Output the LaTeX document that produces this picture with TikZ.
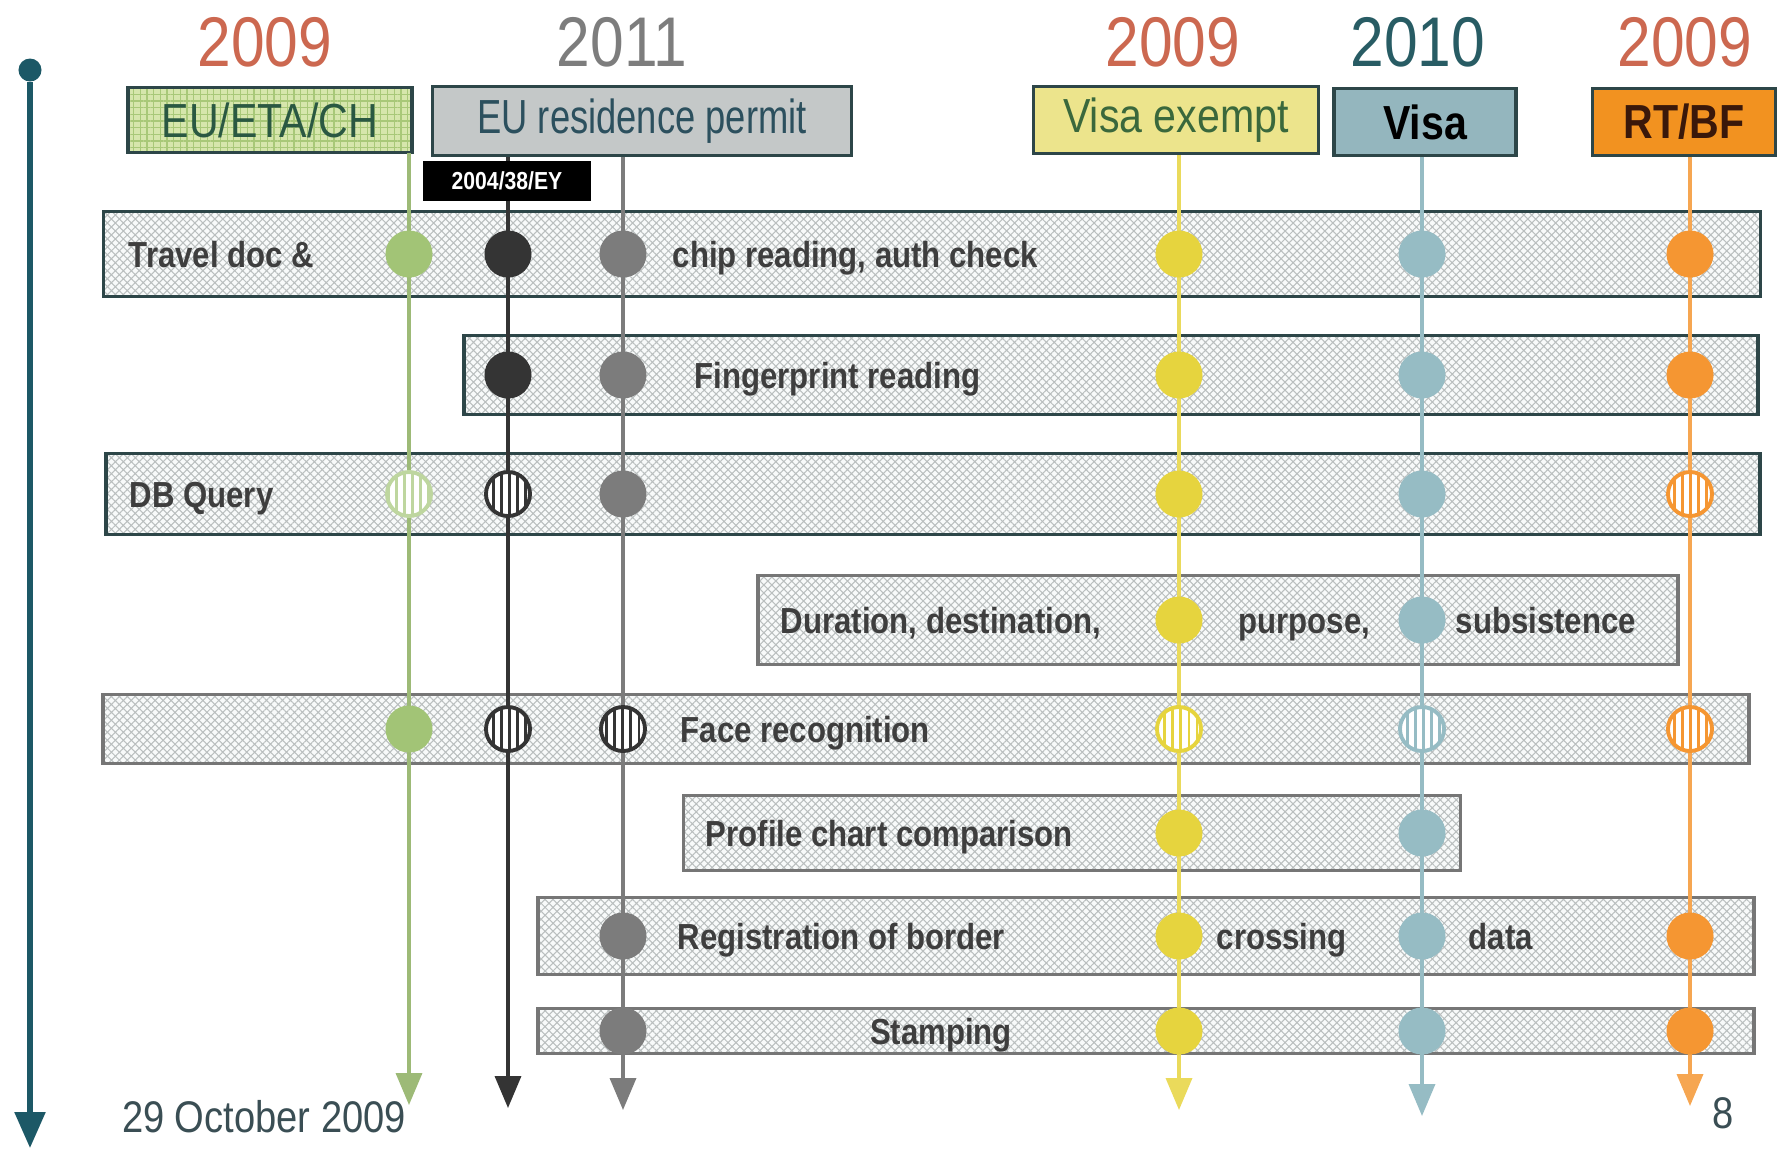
\documentclass[tikz,border=0pt]{standalone}
\usepackage{fontspec}
\setmainfont{Liberation Sans}
\newfontfamily\narrowfont[FakeStretch=0.86]{Liberation Sans}
\newfontfamily\condfont[FakeStretch=0.76]{Liberation Sans}
\usetikzlibrary{arrows.meta, patterns.meta, positioning}

\definecolor{yearred}{RGB}{204, 104, 80}
\definecolor{yeargray}{RGB}{125, 125, 125}
\definecolor{yearteal}{RGB}{40, 92, 100}
\definecolor{tlteal}{RGB}{28, 88, 102}
\definecolor{boxdark}{RGB}{45, 70, 72}
\definecolor{boxgray}{RGB}{118, 118, 118}
\definecolor{rowfill}{RGB}{248, 250, 250}
\definecolor{hatchgray}{RGB}{186, 191, 191}
\definecolor{rowtext}{RGB}{62, 62, 62}
\definecolor{etafill}{RGB}{214, 230, 172}
\definecolor{etagrid}{RGB}{168, 200, 120}
\definecolor{etatext}{RGB}{42, 88, 66}
\definecolor{permitfill}{RGB}{196, 200, 200}
\definecolor{permittext}{RGB}{44, 80, 94}
\definecolor{exemptfill}{RGB}{236, 228, 140}
\definecolor{exempttext}{RGB}{58, 104, 60}
\definecolor{visafill}{RGB}{148, 182, 190}
\definecolor{rtbffill}{RGB}{242, 146, 32}
\definecolor{rtbftext}{RGB}{58, 24, 10}
\definecolor{colgreen}{RGB}{162, 196, 118}
\definecolor{colblack}{RGB}{52, 52, 52}
\definecolor{colgray}{RGB}{124, 124, 124}
\definecolor{colyellow}{RGB}{230, 212, 62}
\definecolor{colblue}{RGB}{150, 188, 196}
\definecolor{colorange}{RGB}{245, 150, 50}
\definecolor{foottext}{RGB}{58, 78, 84}

\begin{document}
\begin{tikzpicture}[x=0.01cm, y=-0.01cm,
  yearlbl/.style={inner sep=0, font=\narrowfont\fontsize{20}{22}\selectfont},
  hdr/.style={line width=1pt, inner sep=0, font=\narrowfont\fontsize{13.6}{15}\selectfont},
  rowbox/.style={draw=#1, line width=1pt, inner sep=0, preaction={fill=rowfill},
    pattern={Hatch[angle=45, distance=1.6pt, line width=0.3pt]}, pattern color=hatchgray},
  rowtxt/.style={anchor=west, inner sep=0, text height=1.4ex, text depth=0pt, text=rowtext,
    font=\narrowfont\bfseries\fontsize{10.3}{12}\selectfont},
  colline/.style={draw=#1, line width=1pt, -{Triangle[width=0.26cm, length=0.32cm]}},
  dotf/.style={circle, inner sep=0, minimum size=0.47cm, fill=#1},
  doth/.style={circle, inner sep=0, minimum size=0.44cm, draw=#1, line width=1.1pt,
    preaction={fill=white}, pattern={Lines[angle=90, distance=2.3pt, line width=0.8pt]}, pattern color=#1}]
  \useasboundingbox (0,0) rectangle (1778,1150);

  % ===== TIMELINE (left) =====
  \node[circle, fill=tlteal, inner sep=0, minimum size=0.23cm] (tltop) at (30,70) {};
  \coordinate (tlend) at (30,1148);
  \draw[tlteal, line width=1.6pt, -{Triangle[width=0.3cm, length=0.36cm]}] (tltop) -- (tlend);

  % ===== YEARS =====
  \node[yearlbl, text=yearred] (y1) at (265,42) {2009};
  \node[yearlbl, text=yeargray] (y2) at (622,42) {2011};
  \node[yearlbl, text=yearred] (y3) at (1173,42) {2009};
  \node[yearlbl, text=yearteal] (y4) at (1418,42) {2010};
  \node[yearlbl, text=yearred] (y5) at (1685,42) {2009};

  % ===== HEADERS =====
  \node[hdr, draw=boxdark, preaction={fill=etafill}, pattern={Hatch[angle=0, distance=1.9pt, line width=0.35pt]},
    pattern color=etagrid, text=etatext, minimum width=2.84cm, minimum height=0.65cm] (eta) at (270,120) {EU/ETA/CH};
  \node[hdr, draw=boxdark, fill=permitfill, text=permittext, minimum width=4.19cm, minimum height=0.69cm,
    font=\condfont\fontsize{13.6}{15}\selectfont] (permit) at (642,121) {EU residence permit};
  \node[hdr, draw=boxdark, fill=exemptfill, text=exempttext, minimum width=2.85cm, minimum height=0.67cm] (exempt) at (1176,120) {Visa exempt};
  \node[hdr, draw=boxdark, fill=visafill, text=black, minimum width=1.82cm, minimum height=0.67cm,
    font=\narrowfont\bfseries\fontsize{13.6}{15}\selectfont] (visa) at (1425,122) {Visa};
  \node[hdr, draw=boxdark, fill=rtbffill, text=rtbftext, minimum width=1.83cm, minimum height=0.67cm,
    font=\narrowfont\bfseries\fontsize{13.6}{15}\selectfont] (rtbf) at (1684,122) {RT/BF};

  % ===== ROWS =====
  \node[rowbox=boxdark, minimum width=16.56cm, minimum height=0.85cm] (r1) at (932,254) {};
  \node[rowbox=boxdark, minimum width=12.93cm, minimum height=0.79cm] (r2) at (1111,375) {};
  \node[rowbox=boxdark, minimum width=16.53cm, minimum height=0.81cm] (r3) at (933,494) {};
  \node[rowbox=boxgray, minimum width=9.19cm, minimum height=0.89cm] (r4) at (1218,620) {};
  \node[rowbox=boxgray, minimum width=16.45cm, minimum height=0.69cm] (r5) at (926,729) {};
  \node[rowbox=boxgray, minimum width=7.77cm, minimum height=0.75cm] (r6) at (1072,833) {};
  \node[rowbox=boxgray, minimum width=12.15cm, minimum height=0.77cm] (r7) at (1146,936) {};
  \node[rowbox=boxgray, minimum width=12.15cm, minimum height=0.45cm] (r8) at (1146,1031) {};

  \node[rowtxt] (t1a) at (128,254) {Travel doc \&};
  \node[rowtxt] (t1b) at (672,254) {chip reading, auth check};
  \node[rowtxt] (t2) at (694,375) {Fingerprint reading};
  \node[rowtxt] (t3) at (129,494) {DB Query};
  \node[rowtxt] (t4a) at (780,620) {Duration, destination,};
  \node[rowtxt] (t4b) at (1238,620) {purpose,};
  \node[rowtxt] (t4c) at (1455,620) {subsistence};
  \node[rowtxt] (t5) at (680,729) {Face recognition};
  \node[rowtxt] (t6) at (705,833) {Profile chart comparison};
  \node[rowtxt] (t7a) at (677,936) {Registration of border};
  \node[rowtxt] (t7b) at (1216,936) {crossing};
  \node[rowtxt] (t7c) at (1468,936) {data};
  \node[rowtxt, anchor=center] (t8) at (941,1031) {Stamping};

  % ===== COLUMN LINES =====
  \coordinate (gend) at (409,1105);
  \coordinate (kend) at (508,1108);
  \coordinate (send) at (623,1110);
  \coordinate (yend) at (1179,1110);
  \coordinate (bend) at (1422,1116);
  \coordinate (oend) at (1690,1106);
  \draw[colline=colgreen!85!gray] (eta.south -| gend) -- (gend);
  \draw[colline=colblack] (permit.south -| kend) -- (kend);
  \draw[colline=colgray] (permit.south -| send) -- (send);
  \draw[colline=colyellow!85!white] (exempt.south -| yend) -- (yend);
  \draw[colline=colblue] (visa.south -| bend) -- (bend);
  \draw[colline=colorange!85!white] (rtbf.south -| oend) -- (oend);

  \node[fill=black, inner sep=0, minimum width=1.68cm, minimum height=0.4cm, text=white,
    font=\narrowfont\bfseries\fontsize{7}{8}\selectfont] (dir) at (507,181) {2004/38/EY};

  % ===== DOTS =====
  % travel doc
  \node[dotf=colgreen] (g1) at (409,254) {};
  \node[dotf=colblack] (k1) at (508,254) {};
  \node[dotf=colgray] (s1) at (623,254) {};
  \node[dotf=colyellow] (ye1) at (1179,254) {};
  \node[dotf=colblue] (b1) at (1422,254) {};
  \node[dotf=colorange] (o1) at (1690,254) {};
  % fingerprint
  \node[dotf=colblack] (k2) at (508,375) {};
  \node[dotf=colgray] (s2) at (623,375) {};
  \node[dotf=colyellow] (ye2) at (1179,375) {};
  \node[dotf=colblue] (b2) at (1422,375) {};
  \node[dotf=colorange] (o2) at (1690,375) {};
  % db query
  \node[doth=colgreen!70!white] (g3) at (409,494) {};
  \node[doth=colblack] (k3) at (508,494) {};
  \node[dotf=colgray] (s3) at (623,494) {};
  \node[dotf=colyellow] (ye3) at (1179,494) {};
  \node[dotf=colblue] (b3) at (1422,494) {};
  \node[doth=colorange] (o3) at (1690,494) {};
  % duration
  \node[dotf=colyellow] (ye4) at (1179,620) {};
  \node[dotf=colblue] (b4) at (1422,620) {};
  % face
  \node[dotf=colgreen] (g5) at (409,729) {};
  \node[doth=colblack] (k5) at (508,729) {};
  \node[doth=colblack] (s5) at (623,729) {};
  \node[doth=colyellow] (ye5) at (1179,729) {};
  \node[doth=colblue] (b5) at (1422,729) {};
  \node[doth=colorange] (o5) at (1690,729) {};
  % profile
  \node[dotf=colyellow] (ye6) at (1179,833) {};
  \node[dotf=colblue] (b6) at (1422,833) {};
  % registration
  \node[dotf=colgray] (s7) at (623,936) {};
  \node[dotf=colyellow] (ye7) at (1179,936) {};
  \node[dotf=colblue] (b7) at (1422,936) {};
  \node[dotf=colorange] (o7) at (1690,936) {};
  % stamping
  \node[dotf=colgray] (s8) at (623,1031) {};
  \node[dotf=colyellow] (ye8) at (1179,1031) {};
  \node[dotf=colblue] (b8) at (1422,1031) {};
  \node[dotf=colorange] (o8) at (1690,1031) {};

  % ===== FOOTER =====
  \node[inner sep=0, text=foottext, font=\narrowfont\fontsize{12.6}{14}\selectfont] (date) at (264,1117) {29 October 2009};
  \node[inner sep=0, text=foottext, font=\narrowfont\fontsize{12.6}{14}\selectfont] (page) at (1723,1113) {8};
\end{tikzpicture}
\end{document}
